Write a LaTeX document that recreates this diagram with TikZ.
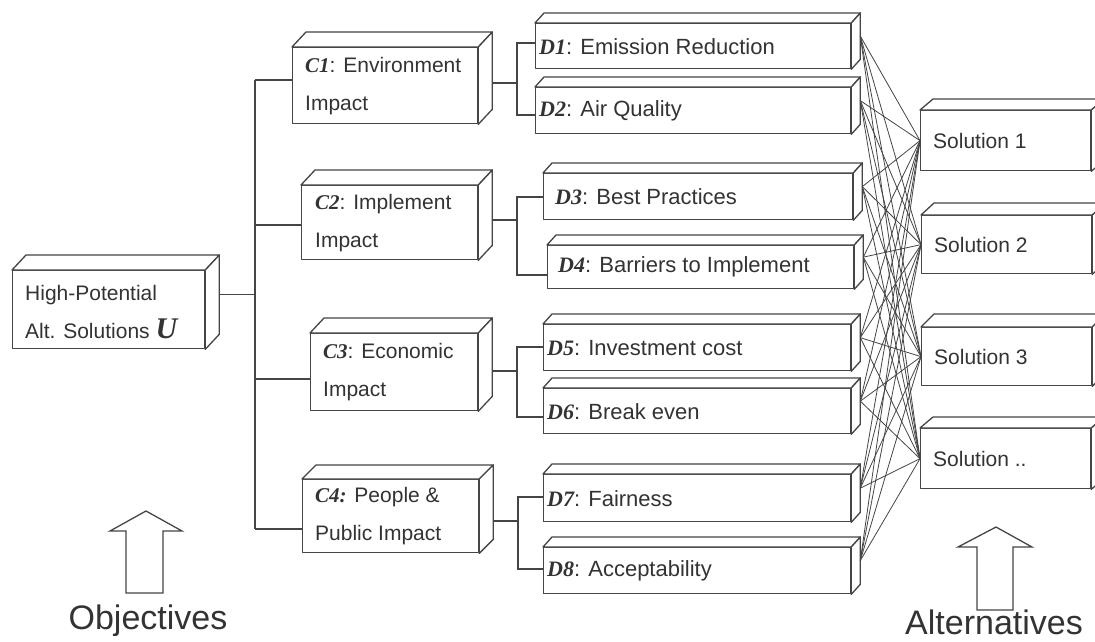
\documentclass[tikz,border=0pt]{standalone}
\usepackage{fontspec}
\setmainfont{Liberation Sans}
\newfontfamily\tnr{Liberation Serif}
\usetikzlibrary{calc}
\definecolor{ink}{HTML}{454545}
\definecolor{txt}{HTML}{333333}
\tikzset{
  front/.style={draw=ink, fill=white, line width=1.3pt, line join=round, rectangle, inner sep=0pt, anchor=north west},
  face/.style={draw=ink, fill=white, line width=1.3pt, line join=round},
  lbl/.style={text=txt, anchor=west, inner sep=0pt, align=left, font=\fontsize{21}{38}\selectfont},
  dlbl/.style={lbl, font=\fontsize{22}{26}\selectfont},
  conn/.style={draw=ink, line width=1.2pt},
  web/.style={draw=ink, line width=0.8pt},
  bigarrow/.style={draw=ink, fill=white, line width=1.3pt, line join=miter},
  caption/.style={text=txt, font=\fontsize{34}{40}\selectfont, inner sep=0pt},
}
\newcommand\cubox[7]{% name, x, y, w, h, dx, dy
  \node[front, minimum width=#4pt, minimum height=#5pt] (#1) at (#2,#3) {};
  \filldraw[face] (#1.north west) -- ++(#6,#7) -- ($(#1.north east)+(#6,#7)$) -- (#1.north east) -- cycle;
  \filldraw[face] (#1.north east) -- ($(#1.north east)+(#6,#7)$) -- ($(#1.south east)+(#6,#7)$) -- (#1.south east) -- cycle;
  \coordinate (#1-r) at ($(#1.east)+(#6,#7)$);
}
\newcommand\emb[1]{{\tnr\bfseries\itshape #1}}
\begin{document}
\begin{tikzpicture}[x=1pt, y=-1pt]
\useasboundingbox (0,0) rectangle (1095,642);
\fill[white] (0,0) rectangle (1095,642);

% boxes
\cubox{U}{12}{270}{192}{78}{14}{-15}
\cubox{C1}{292}{47}{185}{76}{14}{-15}
\cubox{C2}{301}{185}{176}{74}{14}{-15}
\cubox{C3}{310}{333}{167}{77}{14}{-15}
\cubox{C4}{302}{479}{176}{73}{14}{-14}

\cubox{D1}{535}{23}{315}{45}{9}{-10}
\cubox{D2}{535}{87}{315}{46}{9}{-10}
\cubox{D3}{543}{173}{309}{46}{9}{-10}
\cubox{D4}{547}{245}{306}{43}{9}{-10}
\cubox{D5}{543}{324}{307}{46}{9}{-10}
\cubox{D6}{543}{388}{307}{45}{9}{-10}
\cubox{D7}{543}{474}{307}{47}{9}{-10}
\cubox{D8}{543}{547}{307}{46}{9}{-10}

\cubox{S1}{920}{110}{170}{60}{13}{-11}
\cubox{S2}{921}{215}{170}{58}{13}{-12}
\cubox{S3}{921}{327}{170}{58}{13}{-13}
\cubox{S4}{920}{428}{170}{60}{13}{-11}

% labels
\node[lbl] (U-t) at ([xshift=13,yshift=-2]U.west) {High-Potential\\Alt. Solutions {\tnr\bfseries\itshape\fontsize{30}{30}\selectfont U}};
\node[lbl] (C1-t) at ([xshift=13]C1.west) {\emb{C1}: Environment\\Impact};
\node[lbl] (C2-t) at ([xshift=14]C2.west) {\emb{C2}: Implement\\Impact};
\node[lbl] (C3-t) at ([xshift=13]C3.west) {\emb{C3}: Economic\\Impact};
\node[lbl] (C4-t) at ([xshift=13]C4.west) {\emb{C4:} People \&\\Public Impact};

\node[dlbl] (D1-t) at ([xshift=4]D1.west) {\emb{D1}: Emission Reduction};
\node[dlbl] (D2-t) at ([xshift=4]D2.west) {\emb{D2}: Air Quality};
\node[dlbl] (D3-t) at ([xshift=12]D3.west) {\emb{D3}: Best Practices};
\node[dlbl] (D4-t) at ([xshift=11]D4.west) {\emb{D4}: Barriers to Implement};
\node[dlbl] (D5-t) at ([xshift=4]D5.west) {\emb{D5}: Investment cost};
\node[dlbl] (D6-t) at ([xshift=4]D6.west) {\emb{D6}: Break even};
\node[dlbl] (D7-t) at ([xshift=4]D7.west) {\emb{D7}: Fairness};
\node[dlbl] (D8-t) at ([xshift=4]D8.west) {\emb{D8}: Acceptability};

\node[lbl] (S1-t) at ([xshift=13]S1.west) {Solution 1};
\node[lbl] (S2-t) at ([xshift=13]S2.west) {Solution 2};
\node[lbl] (S3-t) at ([xshift=13]S3.west) {Solution 3};
\node[lbl] (S4-t) at ([xshift=13]S4.west) {Solution ..};

% tree connectors
\coordinate (tTop) at (255,80);
\coordinate (tC2) at (255,225);
\coordinate (tC3) at (255,379);
\coordinate (tBot) at (255,529);
\draw[conn] (U-r) -- (U-r -| tTop);
\draw[conn] (tTop) -- (tBot);
\draw[conn] (tTop) -- (tTop -| C1.west);
\draw[conn] (tC2) -- (tC2 -| C2.west);
\draw[conn] (tC3) -- (tC3 -| C3.west);
\draw[conn] (tBot) -- (tBot -| C4.west);

\coordinate (a1) at (517,43);  \coordinate (b1) at (517,115); \coordinate (m1) at (517,83);
\coordinate (a2) at (517,197); \coordinate (b2) at (517,275); \coordinate (m2) at (517,220);
\coordinate (a3) at (517,347); \coordinate (b3) at (517,417); \coordinate (m3) at (517,371);
\coordinate (a4) at (518,497); \coordinate (b4) at (518,569); \coordinate (m4) at (518,521);

\draw[conn] (a1 -| D1.west) -- (a1) -- (b1) -- (b1 -| D2.west);
\draw[conn] (m1 -| C1-r) -- (m1);
\draw[conn] (a2 -| D3.west) -- (a2) -- (b2) -- (b2 -| D4.west);
\draw[conn] (m2 -| C2-r) -- (m2);
\draw[conn] (a3 -| D5.west) -- (a3) -- (b3) -- (b3 -| D6.west);
\draw[conn] (m3 -| C3-r) -- (m3);
\draw[conn] (a4 -| D7.west) -- (a4) -- (b4) -- (b4 -| D8.west);
\draw[conn] (m4 -| C4-r) -- (m4);

% all-to-all web
\foreach \d in {D1,D2,D3,D4,D5,D6,D7,D8}
  \foreach \s in {S1,S2,S3,S4}
    \draw[web] (\d-r) -- (\s.west);

% big arrows and captions
\draw[bigarrow] (126,593) -- (126,531) -- (110,531) -- (146,511) -- (182,531) -- (163,531) -- (163,593) -- cycle;
\node[caption] (obj) at (148,621) {Objectives};
\draw[bigarrow] (977,610) -- (977,547) -- (958,547) -- (996,527) -- (1032,547) -- (1013,547) -- (1013,610) -- cycle;
\node[caption] (alt) at (994,622) {Alternatives};
\end{tikzpicture}
\end{document}
